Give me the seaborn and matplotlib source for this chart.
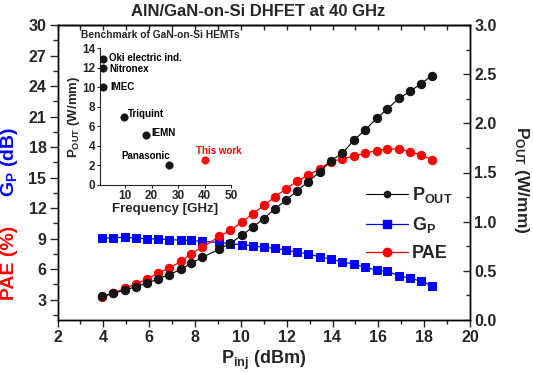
import matplotlib
matplotlib.use("Agg")
import matplotlib.pyplot as plt
from matplotlib.ticker import MultipleLocator, FormatStrFormatter
from matplotlib.lines import Line2D
import seaborn as sns
import pandas as pd

# ---------------- data ----------------
p_inj = [3.95, 4.43, 4.94, 5.41, 5.92, 6.40, 6.88, 7.38, 7.82, 8.32,
         9.06, 9.54, 10.04, 10.52, 11.00, 11.49, 11.97, 12.45, 12.94, 13.44,
         13.93, 14.43, 14.94, 15.42, 15.93, 16.39, 16.90, 17.38, 17.85, 18.34]
gp_db = [9.02, 9.09, 9.12, 9.06, 8.99, 8.96, 8.89, 8.86, 8.82, 8.72,
         8.63, 8.50, 8.40, 8.30, 8.14, 8.04, 7.88, 7.68, 7.49, 7.22,
         7.00, 6.70, 6.50, 6.17, 5.92, 5.78, 5.36, 5.10, 4.84, 4.38]
pae_pct = [3.27, 3.66, 4.11, 4.54, 5.03, 5.62, 6.11, 6.76, 7.52, 8.14,
           9.22, 9.80, 10.63, 11.43, 12.26, 13.10, 13.90, 14.62, 15.27, 15.83,
           16.58, 16.84, 17.13, 17.40, 17.65, 17.82, 17.82, 17.56, 17.23, 16.74]
pout_wmm = [0.24, 0.27, 0.305, 0.339, 0.373, 0.42, 0.461, 0.515, 0.576, 0.637,
            0.72, 0.78, 0.86, 0.945, 1.03, 1.13, 1.22, 1.312, 1.407, 1.505,
            1.62, 1.695, 1.83, 1.932, 2.051, 2.146, 2.254, 2.325, 2.40, 2.485]

bench_labels = ["Oki electric ind.", "Nitronex", "IMEC", "Triquint", "IEMN", "Panasonic", "This work"]
bench_freq = [1.8, 1.8, 1.8, 9.7, 18.0, 26.4, 40.0]
bench_pout = [12.9, 12.0, 10.0, 7.0, 5.07, 2.0, 2.5]

x_ticks = [2, 4, 6, 8, 10, 12, 14, 16, 18, 20]

df = pd.DataFrame({"pinj": p_inj, "gp": gp_db, "pae": pae_pct, "pout": pout_wmm})
bench = pd.DataFrame({"f": bench_freq, "p": bench_pout, "name": bench_labels})

# ---------------- style ----------------
sns.set_style("ticks")
plt.rcParams["font.family"] = ["Liberation Sans", "DejaVu Sans"]
plt.rcParams["font.weight"] = "bold"
plt.rcParams["mathtext.fontset"] = "custom"
plt.rcParams["mathtext.rm"] = "Liberation Sans:bold"
plt.rcParams["mathtext.bf"] = "Liberation Sans:bold"
plt.rcParams["mathtext.it"] = "Liberation Sans:bold"
plt.rcParams["axes.linewidth"] = 1.0

W, H = 533, 373
fig = plt.figure(figsize=(W / 100, H / 100), dpi=100)
L, R, T, B = 57.5, 470, 25, 320
ax = fig.add_axes([L / W, 1 - B / H, (R - L) / W, (B - T) / H])
ax.set_facecolor("none")
ax2 = ax.twinx()

# GP and PAE on left axis
sns.lineplot(data=df, x="pinj", y="gp", ax=ax, color="#0000FF", marker="s",
             markersize=5.2, markeredgecolor="#0000FF", linewidth=0.9, zorder=3)
sns.lineplot(data=df, x="pinj", y="pae", ax=ax, color="#FF0000", marker="o",
             markersize=6.0, markeredgecolor="#FF0000", linewidth=0.9, zorder=4)
# POUT on right axis
sns.lineplot(data=df, x="pinj", y="pout", ax=ax2, color="black", marker="o",
             markersize=6.0, markeredgecolor="#111111", markerfacecolor="#151515",
             linewidth=0.8, zorder=5)

ax.set_xlim(2, 20)
ax.set_ylim(1, 30)
ax2.set_ylim(0, 3.0)

ax.set_xticks(x_ticks)
ax.xaxis.set_minor_locator(MultipleLocator(1))
ax.yaxis.set_major_locator(MultipleLocator(3))
ax.yaxis.set_minor_locator(MultipleLocator(1.5))
ax2.yaxis.set_major_locator(MultipleLocator(0.5))
ax2.yaxis.set_minor_locator(MultipleLocator(0.25))
ax2.yaxis.set_major_formatter(FormatStrFormatter("%.1f"))

ax.tick_params(axis="x", which="major", direction="out", length=5, width=1.0,
               labelsize=11.5, pad=2, top=False)
ax.tick_params(axis="x", which="minor", direction="out", length=3, width=1.0, top=False)
ax.tick_params(axis="y", which="major", direction="out", length=6, width=1.0,
               labelsize=11.5, pad=2, right=False)
ax.tick_params(axis="y", which="minor", direction="out", length=3.5, width=1.0, right=False)
ax2.tick_params(axis="y", which="major", direction="in", length=5, width=1.0,
                labelsize=11.5, pad=3)
ax2.tick_params(axis="y", which="minor", direction="in", length=3, width=1.0)

sec = ax.secondary_xaxis("top")
sec.set_xticks(list(range(2, 21)))
sec.tick_params(direction="in", length=3.5, width=1.0, labeltop=False)
sec.set_xticklabels([])

for a in (ax, ax2):
    for s in a.spines.values():
        s.set_visible(True)
        s.set_linewidth(1.0)
        s.set_color("black")

ax.set_xlabel(r"P$_{\mathbf{inj}}$ (dBm)", fontsize=13, fontweight="bold", labelpad=3)
ax.set_ylabel("")
ax2.set_ylabel("")

fig.text(522 / W, 1 - 180 / H, r"P$_{\mathbf{OUT}}$ (W/mm)", rotation=-90,
         fontsize=12.5, fontweight="bold", ha="center", va="center")
fig.text(10 / W, 1 - 263 / H, "PAE (%)", rotation=90, color="#FF0000",
         fontsize=14, fontweight="bold", ha="center", va="center")
fig.text(10 / W, 1 - 162 / H, r"G$_{\mathbf{P}}$ (dB)", rotation=90, color="#0000FF",
         fontsize=14, fontweight="bold", ha="center", va="center")

fig.text(258.5 / W, 1 - 11 / H, "AlN/GaN-on-Si DHFET at 40 GHz",
         fontsize=12, fontweight="bold", ha="center", va="center")

# legend
handles = [
    Line2D([], [], color="black", lw=0.8, marker="o", markersize=4.5,
           markerfacecolor="#151515", markeredgecolor="#111111"),
    Line2D([], [], color="#0000FF", lw=0.9, marker="s", markersize=5.2,
           markeredgecolor="#0000FF"),
    Line2D([], [], color="#FF0000", lw=0.9, marker="o", markersize=6,
           markeredgecolor="#FF0000"),
]
labels = [r"P$_{\mathbf{OUT}}$", r"G$_{\mathbf{P}}$", "PAE"]
leg = ax2.legend(handles, labels, loc="upper left",
                 bbox_to_anchor=(366 / W, 1 - 185 / H), bbox_transform=fig.transFigure,
                 frameon=False, fontsize=13, handlelength=2.3, handletextpad=0.25,
                 labelspacing=0.55, borderpad=0, borderaxespad=0)
for t in leg.get_texts():
    t.set_fontweight("bold")

# ---------------- inset ----------------
iL, iR, iT, iB = 100, 231, 48.3, 184.7
axi = fig.add_axes([iL / W, 1 - iB / H, (iR - iL) / W, (iB - iT) / H])
axi.set_facecolor("none")
others = bench.iloc[:-1]
mine = bench.iloc[-1:]
sns.scatterplot(data=others, x="f", y="p", ax=axi, color="#151515", s=28,
                edgecolor="#111111", linewidth=0.5, zorder=5)
sns.scatterplot(data=mine, x="f", y="p", ax=axi, color="#FF1010", s=28,
                edgecolor="#FF0000", linewidth=0.5, zorder=5)
axi.set_xlim(0.5, 50)
axi.set_ylim(0, 14)
axi.set_xticks([10, 20, 30, 40, 50])
axi.set_yticks([0, 2, 4, 6, 8, 10, 12, 14])
axi.tick_params(direction="out", length=2.5, width=0.8, labelsize=8.5, pad=1)
for s in ("top", "right"):
    axi.spines[s].set_visible(False)
for s in ("left", "bottom"):
    axi.spines[s].set_linewidth(0.8)
axi.set_xlabel("Frequency [GHz]", fontsize=9.5, fontweight="bold", labelpad=1)
axi.set_ylabel(r"P$_{\mathbf{OUT}}$ (W/mm)", fontsize=9.5, fontweight="bold", labelpad=0)

offsets = [(5.7, 1.3, "left"), (5.7, -1.6, "left"), (6.7, 0.6, "left"),
           (4.0, 2.4, "left"), (4.7, 2.0, "left"), (-22.8, 9.3, "center"),
           (14.0, 9.3, "center")]
for (name, f, p), (dx, dy, ha) in zip(zip(bench_labels, bench_freq, bench_pout), offsets):
    col = "#FF0000" if name == "This work" else "black"
    axi.annotate(name, (f, p), xytext=(dx, dy), textcoords="offset pixels",
                 ha=ha, va="center", fontsize=7, fontweight="bold", color=col)

fig.text(160.5 / W, 1 - 35 / H, "Benchmark of GaN-on-Si HEMTs", fontsize=7.4,
         fontweight="bold", ha="center", va="center")

fig.savefig("out.png", dpi=100)
